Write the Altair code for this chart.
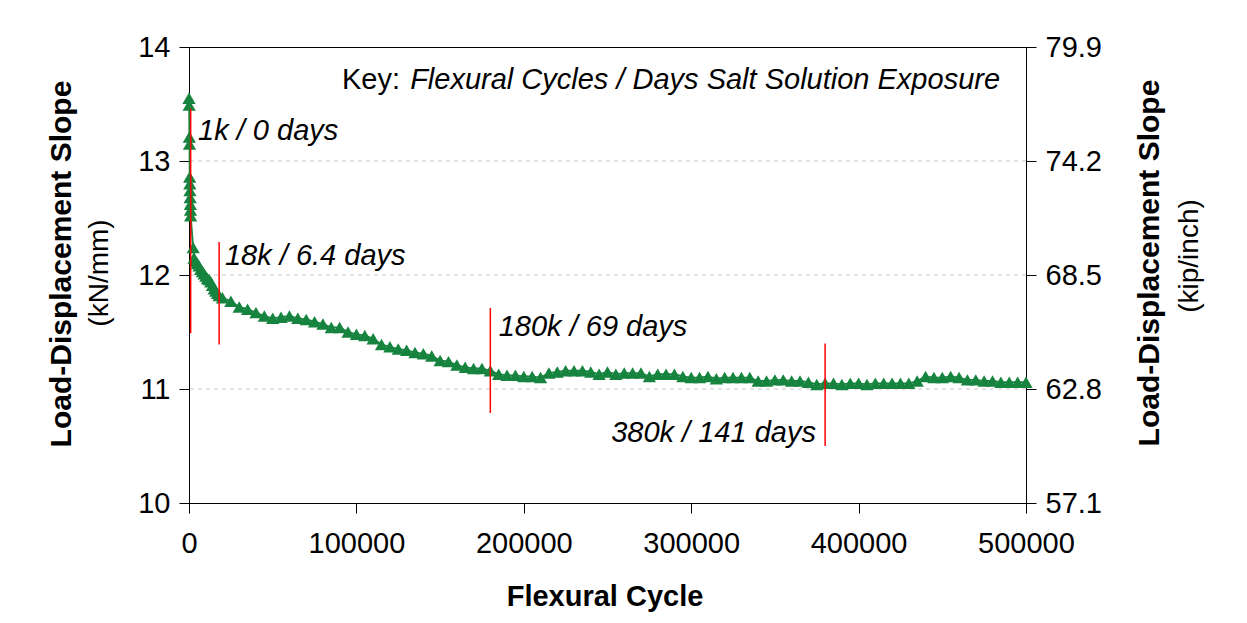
import altair as alt
import pandas as pd

FONT = "Liberation Sans"
GREEN = "#16843F"
RED = "#FF0000"

# ---- data ----
cycles_early = [0, 100, 200, 300, 400, 500, 600, 700, 800, 900, 1000, 2500, 3000,
                4000, 5000, 6000, 7000, 8000, 9000, 10000, 11000, 12000, 13000,
                14000, 15000, 16000, 17000, 18000, 20000]
slope_early = [13.55, 13.49, 13.21, 13.15, 12.86, 12.80, 12.74, 12.68, 12.62, 12.57,
               12.52, 12.24, 12.15, 12.12, 12.10, 12.08, 12.05, 12.03, 12.01, 11.99,
               11.97, 11.96, 11.94, 11.91, 11.88, 11.86, 11.84, 11.82, 11.80]

cycles_main = list(range(25000, 500001, 5000))
slope_main = [
    11.77, 11.72, 11.70, 11.67, 11.64, 11.62, 11.63, 11.64, 11.62, 11.61,
    11.59, 11.57, 11.54, 11.54, 11.50, 11.48, 11.47, 11.44, 11.39, 11.37,
    11.35, 11.34, 11.32, 11.31, 11.29, 11.25, 11.24, 11.21, 11.19, 11.18,
    11.18, 11.16, 11.13, 11.12, 11.12, 11.11, 11.11, 11.10, 11.14, 11.15,
    11.16, 11.16, 11.16, 11.15, 11.13, 11.15, 11.13, 11.14, 11.14, 11.14,
    11.11, 11.13, 11.13, 11.13, 11.11, 11.10, 11.10, 11.11, 11.09, 11.10,
    11.10, 11.10, 11.10, 11.07, 11.07, 11.08, 11.08, 11.07, 11.07, 11.06,
    11.04, 11.05, 11.05, 11.04, 11.05, 11.05, 11.04, 11.05, 11.05, 11.05,
    11.05, 11.05, 11.07, 11.11, 11.10, 11.10, 11.11, 11.10, 11.08, 11.08,
    11.07, 11.07, 11.06, 11.06, 11.06, 11.06,
]

kn_ticks = [10, 11, 12, 13, 14]
grid_values = [11, 12, 13]
kip_ticks = [57.1, 62.8, 68.5, 74.2, 79.9]
x_ticks = [0, 100000, 200000, 300000, 400000, 500000]

marker_cycles = [1000, 18000, 180000, 380000]
marker_low = [11.49, 11.39, 10.79, 10.50]
marker_high = [13.46, 12.29, 11.71, 11.40]

label_text = ["1k / 0 days", "18k / 6.4 days", "180k / 69 days"]
label_cycles = [5400, 21500, 185000]
label_slope = [13.26, 12.17, 11.54]
label_right_text = ["380k / 141 days"]
label_right_cycles = [374500]
label_right_slope = [10.61]

key_head = ["Key:"]
key_head_cycles = [91400]
key_body = ["Flexural Cycles / Days Salt Solution Exposure"]
key_body_cycles = [484500]
key_slope = [13.71]

y_title = "Load-Displacement Slope"
y_left_unit = "(kN/mm)"
y_right_unit = "(kip/inch)"
x_title = "Flexural Cycle"

# ---- tables ----
series = pd.DataFrame({"cycles": cycles_early + cycles_main,
                       "slope": slope_early + slope_main})
grid_df = pd.DataFrame({"g": grid_values})
markers = pd.DataFrame({"c": marker_cycles, "lo": marker_low, "hi": marker_high})
labels_l = pd.DataFrame({"c": label_cycles, "s": label_slope, "t": label_text})
labels_r = pd.DataFrame({"c": label_right_cycles, "s": label_right_slope, "t": label_right_text})
key_h = pd.DataFrame({"c": key_head_cycles, "s": key_slope, "t": key_head})
key_b = pd.DataFrame({"c": key_body_cycles, "s": key_slope, "t": key_body})

XAXIS = alt.Axis(values=x_ticks, format="d", title=None, grid=False, tickSize=10,
                 labelPadding=16, labelFontSize=29, labelFlush=False)
YSCALE = alt.Scale(domain=[10, 14], nice=False, zero=False)


def X(field):
    return alt.X(field, type="quantitative",
                 scale=alt.Scale(domain=[0, 500000], nice=False, zero=False), axis=XAXIS)


def Y(field, axis=None):
    return alt.Y(field, type="quantitative", scale=YSCALE, axis=axis)


grid = alt.Chart(grid_df).mark_rule(color="#C8C8C8", strokeDash=[4, 4], strokeWidth=1).encode(
    y=Y("g"))

line = alt.Chart(series).mark_line(color=GREEN, strokeWidth=1.8).encode(
    x=X("cycles"),
    y=Y("slope", axis=alt.Axis(values=kn_ticks, title=None, grid=False, tickSize=10,
                               labelPadding=9, labelFontSize=29, orient="left")))

pts = alt.Chart(series).mark_point(shape="triangle-up", filled=True, size=175,
                                   color=GREEN, opacity=1).encode(
    x=X("cycles"), y=Y("slope"))

rules = alt.Chart(markers).mark_rule(color=RED, strokeWidth=1.5).encode(
    x=X("c"), y=Y("lo"), y2="hi")

txt_style = dict(font=FONT, fontSize=29, fontStyle="italic", color="black", baseline="middle")
ann_l = alt.Chart(labels_l).mark_text(align="left", **txt_style).encode(
    x=X("c"), y=Y("s"), text="t:N")
ann_r = alt.Chart(labels_r).mark_text(align="right", **txt_style).encode(
    x=X("c"), y=Y("s"), text="t:N")
keyh = alt.Chart(key_h).mark_text(align="left", font=FONT, fontSize=29, color="black",
                                  baseline="middle").encode(x=X("c"), y=Y("s"), text="t:N")
keyb = alt.Chart(key_b).mark_text(align="right", **txt_style).encode(
    x=X("c"), y=Y("s"), text="t:N")


def title_text(text, xpx, ypx, bold, size, angle=270):
    return alt.Chart(pd.DataFrame({"t": [text]})).mark_text(
        angle=angle, font=FONT, fontSize=size, fontWeight="bold" if bold else "normal",
        color="black", align="center", baseline="middle").encode(
        text="t:N", x=alt.value(xpx), y=alt.value(ypx))


t1 = title_text(y_title, -127, 217, True, 30)
t2 = title_text(y_left_unit, -89, 226, False, 28)
t3 = title_text(y_title, 837 + 124, 216, True, 30)
t4 = title_text(y_right_unit, 837 + 164, 209, False, 28)
t5 = title_text(x_title, 416, 550, True, 29, angle=0)

kip = alt.Chart(pd.DataFrame({"kip": kip_ticks})).mark_point(opacity=0).encode(
    x=alt.value(0),
    y=alt.Y("kip:Q", scale=alt.Scale(domain=[57.1, 79.9], nice=False, zero=False),
            axis=alt.Axis(orient="right", values=kip_ticks, format=".1f", title=None,
                          grid=False, tickSize=10, labelPadding=9, labelFontSize=29)))

chart = alt.layer(grid, line, pts, rules, ann_l, ann_r, keyh, keyb,
                  t1, t2, t3, t4, t5, kip).resolve_scale(y="independent").properties(
    width=837, height=456,
    autosize=alt.AutoSizeParams(type="none"),
    padding={"left": 181, "top": 39, "right": 213, "bottom": 112},
    background="white",
).configure_view(stroke="black", strokeWidth=1).configure_axis(
    labelFont=FONT, labelColor="black", domainColor="black", tickColor="black",
    domainWidth=1, tickWidth=1)

chart.save("out.html", embed_options={"renderer": "svg", "actions": False})
